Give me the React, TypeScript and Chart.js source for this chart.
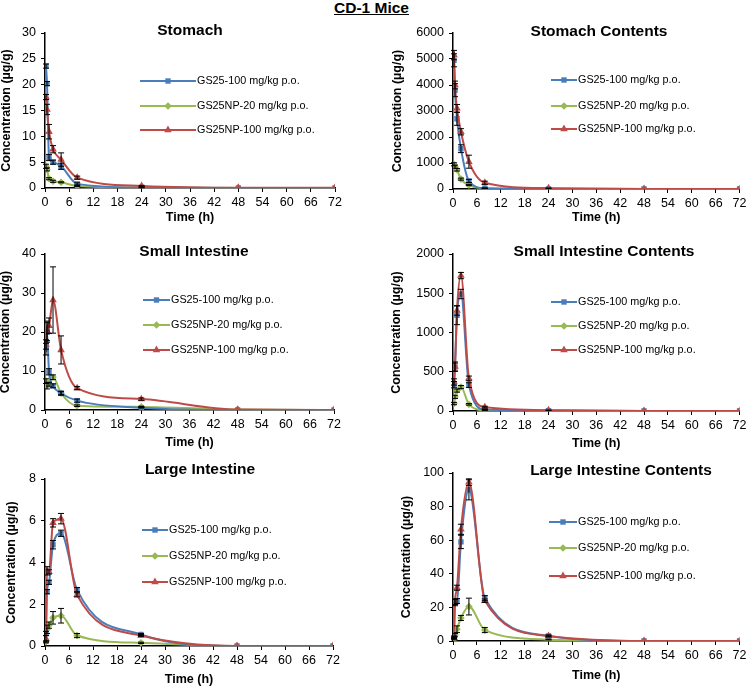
import React, { useEffect, useRef } from 'react';
import { Chart, registerables } from 'chart.js';

Chart.register(...registerables);

// ---------- data ----------
const TIMES = [0.25, 0.5, 1, 2, 4, 8, 24, 48, 72];
const X_MAX = 72;
const X_STEP = 6;
const SERIES_LABELS = ['GS25-100 mg/kg p.o.', 'GS25NP-20 mg/kg p.o.', 'GS25NP-100 mg/kg p.o.'];
const PANEL_TITLES = ['Stomach', 'Stomach Contents', 'Small Intestine', 'Small Intestine Contents', 'Large Intestine', 'Large Intestine Contents'];
const Y_MAXES = [30, 6000, 40, 2000, 8, 100];
const Y_STEPS = [5, 1000, 10, 500, 2, 20];
const X_TITLE = 'Time (h)';
const Y_TITLE = 'Concentration (µg/g)';
const MAIN_TITLE = 'CD-1 Mice';

// Stomach
const ST_GS25_100 = [23.6, 20.2, 5.9, 5.0, 4.2, 0.8, 0.1, 0, 0];
const ST_GS25_100_ERR = [0.4, 0.4, 0.6, 0.4, 0.6, 0.2, 0.05, 0, 0];
const ST_NP_20 = [4.2, 3.6, 1.8, 1.3, 1.1, 0.4, 0.1, 0, 0];
const ST_NP_20_ERR = [0.4, 0.3, 0.2, 0.2, 0.1, 0.1, 0, 0, 0];
const ST_NP_100 = [17.6, 15.2, 10.9, 7.5, 5.5, 2.0, 0.4, 0.05, 0.05];
const ST_NP_100_ERR = [0.5, 1.0, 1.4, 0.7, 1.3, 0.3, 0.1, 0, 0];

// Stomach contents
const STC_GS25_100 = [4950, 3800, 2700, 1550, 310, 30, 5, 0, 0];
const STC_GS25_100_ERR = [250, 250, 250, 150, 60, 10, 0, 0, 0];
const STC_NP_20 = [950, 860, 740, 380, 150, 25, 10, 0, 0];
const STC_NP_20_ERR = [60, 60, 50, 40, 20, 5, 0, 0, 0];
const STC_NP_100 = [5150, 4000, 3100, 2200, 1050, 240, 30, 0, 0];
const STC_NP_100_ERR = [180, 150, 150, 120, 250, 60, 10, 0, 0];

// Small intestine
const SI_GS25_100 = [15.6, 19.9, 9.8, 6.2, 4.3, 2.4, 0.6, 0, 0];
const SI_GS25_100_ERR = [1.5, 2.5, 0.8, 0.5, 0.5, 0.4, 0.1, 0, 0];
const SI_NP_20 = [7.4, 6.2, 6.6, 8.4, 4.3, 1.1, 0.8, 0.1, 0];
const SI_NP_20_ERR = [0.6, 0.8, 0.5, 0.6, 0.4, 0.2, 0.1, 0, 0];
const SI_NP_100 = [16.8, 20.3, 21.6, 28.2, 15.4, 5.6, 2.8, 0.1, 0];
const SI_NP_100_ERR = [1.2, 2.5, 2.0, 8.5, 3.6, 0.4, 0.3, 0, 0];

// Small intestine contents
const SIC_GS25_100 = [335, 560, 1220, 1490, 330, 20, 5, 0, 0];
const SIC_GS25_100_ERR = [40, 50, 120, 60, 30, 5, 0, 0, 0];
const SIC_NP_20 = [95, 180, 260, 305, 85, 10, 2, 0, 0];
const SIC_NP_20_ERR = [15, 20, 20, 20, 10, 2, 0, 0, 0];
const SIC_NP_100 = [370, 565, 1280, 1725, 415, 50, 10, 0, 0];
const SIC_NP_100_ERR = [40, 60, 60, 40, 30, 10, 2, 0, 0];

// Large intestine
const LI_GS25_100 = [0.6, 2.6, 3.05, 4.85, 5.4, 2.7, 0.55, 0, 0];
const LI_GS25_100_ERR = [0.1, 0.1, 0.1, 0.2, 0.15, 0.1, 0.05, 0, 0];
const LI_NP_20 = [0.2, 0.8, 1.0, 1.35, 1.45, 0.5, 0.15, 0, 0];
const LI_NP_20_ERR = [0.05, 0.2, 0.15, 0.3, 0.35, 0.1, 0.03, 0, 0];
const LI_NP_100 = [0.35, 3.6, 3.55, 5.9, 6.1, 2.45, 0.5, 0, 0];
const LI_NP_100_ERR = [0.15, 0.2, 0.1, 0.2, 0.25, 0.1, 0.05, 0, 0];

// Large intestine contents
const LIC_GS25_100 = [2.5, 23.2, 23.8, 59, 90, 25.5, 3, 0, 0];
const LIC_GS25_100_ERR = [0.5, 1.5, 1.5, 4, 6, 1.5, 0.5, 0, 0];
const LIC_NP_20 = [1, 3.5, 7, 13.7, 20.5, 6.5, 0.8, 0, 0];
const LIC_NP_20_ERR = [0.3, 1, 2, 1.5, 5, 1.5, 0.2, 0, 0];
const LIC_NP_100 = [2, 23, 31.7, 66.5, 94.5, 24, 3, 0, 0];
const LIC_NP_100_ERR = [0.5, 2, 1.5, 3, 2, 1, 0.5, 0, 0];

const PANEL_SERIES = [
  [ST_GS25_100, ST_NP_20, ST_NP_100],
  [STC_GS25_100, STC_NP_20, STC_NP_100],
  [SI_GS25_100, SI_NP_20, SI_NP_100],
  [SIC_GS25_100, SIC_NP_20, SIC_NP_100],
  [LI_GS25_100, LI_NP_20, LI_NP_100],
  [LIC_GS25_100, LIC_NP_20, LIC_NP_100],
];
const PANEL_ERRORS = [
  [ST_GS25_100_ERR, ST_NP_20_ERR, ST_NP_100_ERR],
  [STC_GS25_100_ERR, STC_NP_20_ERR, STC_NP_100_ERR],
  [SI_GS25_100_ERR, SI_NP_20_ERR, SI_NP_100_ERR],
  [SIC_GS25_100_ERR, SIC_NP_20_ERR, SIC_NP_100_ERR],
  [LI_GS25_100_ERR, LI_NP_20_ERR, LI_NP_100_ERR],
  [LIC_GS25_100_ERR, LIC_NP_20_ERR, LIC_NP_100_ERR],
];

// ---------- styles / layout ----------
const FONT = '"Liberation Sans", Arial, Helvetica, sans-serif';
const SERIES_COLORS = ['#4A7EBB', '#98B954', '#BE4B48'];
const SERIES_MARKERS = ['rect', 'rectRot', 'triangle'];
const MARKER_R = [3.8, 3.8, 4.4];
const DRAW_ORDER = [1, 2, 0];
const TICK_SIZE = 12.5;
const AXIS_TITLE_SIZE = 12.5;
const PANEL_TITLE_SIZE = 15.5;
const LEGEND_SIZE = 10.8;
const TICK_LEN = 4;

type Layout = {
  canvas: { left: number; top: number; width: number; height: number };
  area: { l: number; t: number; r: number; b: number };
  xTitleY: number;
  yTitleX: number;
  title: { x: number; y: number };
  legend: { x0: number; x1: number; ys: number[] };
};

const LAYOUTS: Layout[] = [
  { canvas: { left: 0, top: 18, width: 375, height: 210 }, area: { l: 45, t: 33, r: 335, b: 188 }, xTitleY: 218, yTitleX: 7, title: { x: 190, y: 31 }, legend: { x0: 140, x1: 196, ys: [81, 106, 130] } },
  { canvas: { left: 375, top: 18, width: 375, height: 210 }, area: { l: 453, t: 33, r: 743, b: 189 }, xTitleY: 218, yTitleX: 398, title: { x: 599, y: 32 }, legend: { x0: 551, x1: 577, ys: [80, 106, 129] } },
  { canvas: { left: 0, top: 236, width: 375, height: 216 }, area: { l: 45, t: 254, r: 334, b: 410 }, xTitleY: 443, yTitleX: 6, title: { x: 194, y: 252 }, legend: { x0: 143, x1: 170, ys: [300, 325, 350] } },
  { canvas: { left: 375, top: 236, width: 375, height: 216 }, area: { l: 453, t: 254, r: 742, b: 411 }, xTitleY: 444, yTitleX: 397, title: { x: 604, y: 252 }, legend: { x0: 551, x1: 577, ys: [302, 326, 350] } },
  { canvas: { left: 0, top: 458, width: 375, height: 230 }, area: { l: 45, t: 479, r: 333, b: 646 }, xTitleY: 680, yTitleX: 12, title: { x: 200, y: 470 }, legend: { x0: 142, x1: 168, ys: [530, 556, 582] } },
  { canvas: { left: 375, top: 458, width: 375, height: 230 }, area: { l: 453, t: 473, r: 741, b: 641 }, xTitleY: 676, yTitleX: 407, title: { x: 621, y: 471 }, legend: { x0: 549, x1: 577, ys: [522, 548, 576] } },
];

function drawMarker(ctx: CanvasRenderingContext2D, style: string, x: number, y: number, r: number, color: string) {
  ctx.save();
  ctx.fillStyle = color;
  ctx.beginPath();
  if (style === 'rect') {
    const s = r * Math.SQRT1_2;
    ctx.rect(x - s, y - s, 2 * s, 2 * s);
  } else if (style === 'rectRot') {
    ctx.moveTo(x, y - r);
    ctx.lineTo(x + r, y);
    ctx.lineTo(x, y + r);
    ctx.lineTo(x - r, y);
    ctx.closePath();
  } else {
    for (let k = 0; k < 3; k++) {
      const a = (k * 2 * Math.PI) / 3;
      const px = x + Math.sin(a) * r;
      const py = y - Math.cos(a) * r;
      if (k === 0) ctx.moveTo(px, py);
      else ctx.lineTo(px, py);
    }
    ctx.closePath();
  }
  ctx.fill();
  ctx.restore();
}

function Panel({ index }: { index: number }) {
  const ref = useRef<HTMLCanvasElement>(null);
  const L = LAYOUTS[index];
  useEffect(() => {
    if (!ref.current) return;
    const c = L.canvas;
    const half = AXIS_TITLE_SIZE / 2;
    const yAxisW = L.area.l - c.left;
    const xAxisH = c.top + c.height - L.area.b;
    const xPadBottom = c.top + c.height - L.xTitleY - half;
    const yPadTop = L.yTitleX - c.left - half;

    const datasets = PANEL_SERIES[index].map((vals, i) => ({
      label: SERIES_LABELS[i],
      data: TIMES.map((t, j) => ({ x: t, y: vals[j] })),
      errors: PANEL_ERRORS[index][i],
      borderColor: SERIES_COLORS[i],
      backgroundColor: SERIES_COLORS[i],
      pointStyle: SERIES_MARKERS[i],
      pointRadius: MARKER_R[i],
      pointBorderWidth: 0,
      pointBackgroundColor: SERIES_COLORS[i],
      borderWidth: 2,
      cubicInterpolationMode: 'monotone',
      order: DRAW_ORDER[i],
    }));

    const decor = {
      id: 'decor' + index,
      afterDatasetsDraw(chart: any) {
        const ctx = chart.ctx as CanvasRenderingContext2D;
        const ys = chart.scales.y;
        ctx.save();
        ctx.strokeStyle = '#000';
        ctx.lineWidth = 1;
        chart.data.datasets.forEach((ds: any, di: number) => {
          const meta = chart.getDatasetMeta(di);
          ds.data.forEach((pt: any, j: number) => {
            const e = ds.errors[j];
            if (!e) return;
            const px = meta.data[j].x;
            const yt = ys.getPixelForValue(pt.y + e);
            const yb = ys.getPixelForValue(Math.max(pt.y - e, 0));
            ctx.beginPath();
            ctx.moveTo(px, yt);
            ctx.lineTo(px, yb);
            ctx.moveTo(px - 3, yt);
            ctx.lineTo(px + 3, yt);
            ctx.moveTo(px - 3, yb);
            ctx.lineTo(px + 3, yb);
            ctx.stroke();
          });
        });
        ctx.restore();
      },
      afterDraw(chart: any) {
        const ctx = chart.ctx as CanvasRenderingContext2D;
        ctx.save();
        ctx.fillStyle = '#000';
        ctx.font = `bold ${PANEL_TITLE_SIZE}px ${FONT}`;
        ctx.textAlign = 'center';
        ctx.textBaseline = 'middle';
        ctx.fillText(PANEL_TITLES[index], L.title.x - c.left, L.title.y - c.top);
        ctx.font = `${LEGEND_SIZE}px ${FONT}`;
        ctx.textAlign = 'left';
        SERIES_LABELS.forEach((lab, i) => {
          const y = L.legend.ys[i] - c.top;
          const x0 = L.legend.x0 - c.left;
          const x1 = L.legend.x1 - c.left;
          ctx.strokeStyle = SERIES_COLORS[i];
          ctx.lineWidth = 2;
          ctx.beginPath();
          ctx.moveTo(x0, y);
          ctx.lineTo(x1, y);
          ctx.stroke();
          drawMarker(ctx, SERIES_MARKERS[i], (x0 + x1) / 2, y, MARKER_R[i], SERIES_COLORS[i]);
          ctx.fillStyle = '#000';
          ctx.fillText(lab, x1 + 1, y + 0.5);
        });
        ctx.restore();
      },
    };

    const chart = new Chart(ref.current, {
      type: 'line',
      data: { datasets: datasets as any },
      options: {
        animation: false,
        responsive: false,
        devicePixelRatio: 1,
        layout: { padding: { left: 0, top: L.area.t - c.top, right: c.left + c.width - L.area.r, bottom: 0 } },
        plugins: { legend: { display: false }, tooltip: { enabled: false }, title: { display: false } },
        scales: {
          x: {
            type: 'linear',
            min: 0,
            max: X_MAX,
            ticks: { stepSize: X_STEP, autoSkip: false, maxRotation: 0, padding: 3.5, color: '#000', font: { family: FONT, size: TICK_SIZE }, callback: (v: any) => String(v) },
            grid: { drawOnChartArea: false, drawTicks: true, tickLength: TICK_LEN, color: '#000', lineWidth: 1 },
            border: { display: true, color: '#000', width: 1.5 },
            title: { display: true, text: X_TITLE, color: '#000', font: { family: FONT, size: AXIS_TITLE_SIZE, weight: 'bold', lineHeight: 1 }, padding: { top: 0, bottom: xPadBottom } },
            afterFit: (s: any) => { s.height = xAxisH; },
          },
          y: {
            type: 'linear',
            min: 0,
            max: Y_MAXES[index],
            ticks: { stepSize: Y_STEPS[index], padding: 5, color: '#000', font: { family: FONT, size: TICK_SIZE }, callback: (v: any) => String(v) },
            grid: { drawOnChartArea: false, drawTicks: true, tickLength: TICK_LEN, color: '#000', lineWidth: 1 },
            border: { display: true, color: '#000', width: 1.5 },
            title: { display: true, text: Y_TITLE, color: '#000', font: { family: FONT, size: AXIS_TITLE_SIZE, weight: 'bold', lineHeight: 1 }, padding: { top: yPadTop, bottom: 0 } },
            afterFit: (s: any) => { s.width = yAxisW; },
          },
        },
      } as any,
      plugins: [decor],
    });
    return () => chart.destroy();
  }, [index]);
  const c = L.canvas;
  return (
    <canvas
      ref={ref}
      width={c.width}
      height={c.height}
      style={{ position: 'absolute', left: c.left, top: c.top, width: c.width, height: c.height }}
    />
  );
}

export default function App() {
  useEffect(() => {
    document.body.style.margin = '0';
  }, []);
  return (
    <div style={{ position: 'absolute', left: 0, top: 0, width: 750, height: 688, background: '#fff', overflow: 'hidden' }}>
      <div
        style={{
          position: 'absolute',
          left: 0,
          top: -1,
          width: 743,
          textAlign: 'center',
          fontFamily: FONT,
          fontWeight: 'bold',
          fontSize: 15.5,
          lineHeight: '17px',
          textDecoration: 'underline',
          color: '#000',
        }}
      >
        {MAIN_TITLE}
      </div>
      {PANEL_TITLES.map((_, i) => (
        <Panel key={i} index={i} />
      ))}
    </div>
  );
}
